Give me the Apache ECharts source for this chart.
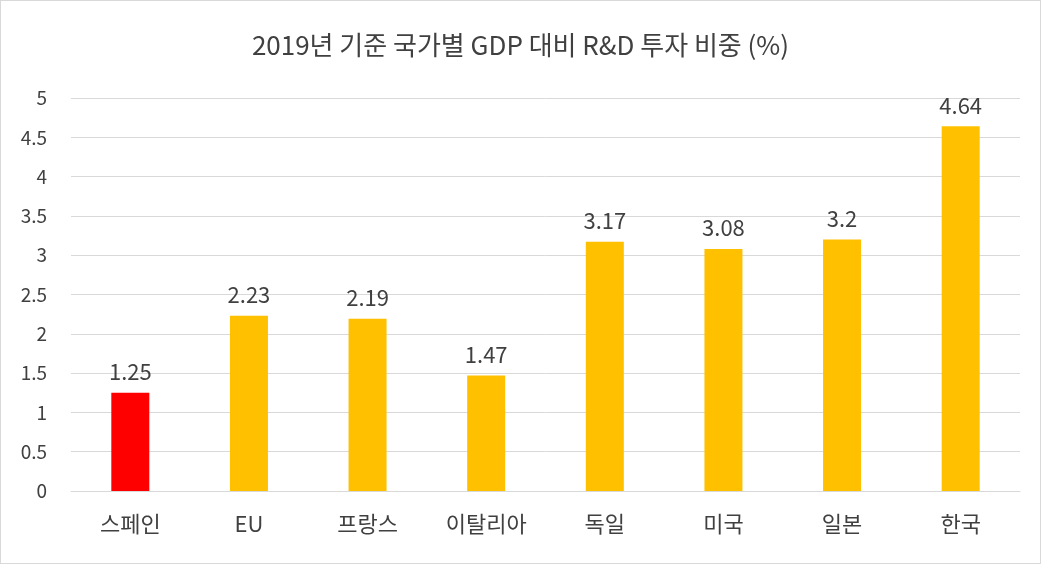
<!DOCTYPE html>
<html>
<head>
<meta charset="utf-8">
<script src="https://cdn.jsdelivr.net/npm/echarts@6/dist/echarts.min.js"></script>
<style>
html,body{margin:0;padding:0;background:#fff;}
#rdChart{width:1039px;height:562px;border:1px solid #d9d9d9;}
</style>
</head>
<body>
<div id="rdChart"></div>
<script>
//국가별 GDP 대비 R&D 투자 비중
var chartData = {
	xdatas: ['스페인','EU','프랑스','이탈리아','독일','미국','일본','한국'],
	values: [1.25, 2.23, 2.19, 1.47, 3.17, 3.08, 3.2, 4.64]
};
var font = '"Noto Sans CJK KR", "Noto Sans", sans-serif';
var rdChart = echarts.init(document.getElementById('rdChart'));
rdChart.setOption({
	animation: false,
	title: {
		text: '2019년 기준 국가별 GDP 대비 R&D 투자 비중 (%)',
		left: 'center',
		top: 26,
		textStyle: {fontFamily: font, fontSize: 26, fontWeight: 'normal', color: '#404040'}
	},
	grid: {left: 70, right: 20, top: 97, bottom: 72},
	xAxis: {
		type: 'category',
		data: chartData.xdatas,
		axisLine: {lineStyle: {color: '#d9d9d9'}},
		axisTick: {show: false},
		axisLabel: {fontFamily: font, fontSize: 22, color: '#404040', margin: 22}
	},
	yAxis: {
		type: 'value',
		min: 0, max: 5, interval: 0.5,
		axisLine: {show: false},
		axisTick: {show: false},
		splitLine: {lineStyle: {color: '#d9d9d9'}},
		axisLabel: {fontFamily: font, fontSize: 19, color: '#404040', margin: 24}
	},
	series: [{
		type: 'bar',
		barWidth: 38,
		data: chartData.values.map(function (v, i) {
			return {value: v, itemStyle: {color: i === 0 ? '#FF0000' : '#FFC000'}};
		}),
		label: {show: true, position: 'top', distance: 10, fontFamily: font, fontSize: 22, color: '#404040'}
	}]
});
</script>
</body>
</html>
